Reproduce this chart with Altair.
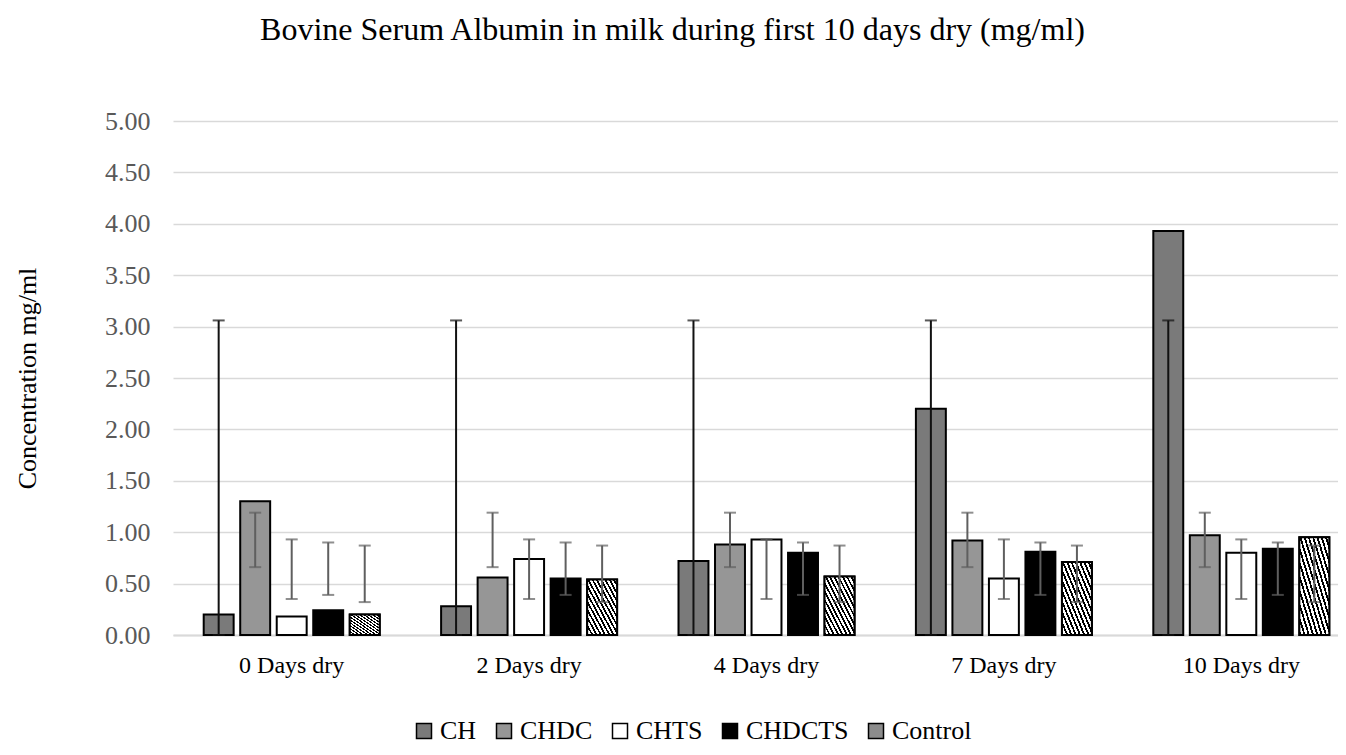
import altair as alt
import pandas as pd

groups = ["0 Days dry", "2 Days dry", "4 Days dry", "7 Days dry", "10 Days dry"]
series = ["CH", "CHDC", "CHTS", "CHDCTS", "Control"]

ch = [0.20, 0.28, 0.72, 2.20, 3.93]
chdc = [1.30, 0.56, 0.88, 0.92, 0.97]
chts = [0.18, 0.74, 0.93, 0.55, 0.80]
chdcts = [0.24, 0.55, 0.80, 0.81, 0.84]
control = [0.20, 0.54, 0.57, 0.71, 0.95]

# error bar limits (same for every day within a series)
err_low = [0.00, 0.66, 0.35, 0.39, 0.32]
err_high = [3.06, 1.19, 0.93, 0.90, 0.87]

y_ticks = [0, 0.5, 1, 1.5, 2, 2.5, 3, 3.5, 4, 4.5, 5]

values = [ch, chdc, chts, chdcts, control]
rows = []
for si, s in enumerate(series):
    for gi, g in enumerate(groups):
        rows.append({"group": g, "series": s, "value": values[si][gi],
                     "lo": err_low[si], "hi": err_high[si]})
df = pd.DataFrame(rows)

FONT = "Liberation Serif"
fills = ["#7a7a7a", "#969696", "#ffffff", "#000000", "#8c8c8c"]

# hatch gradient for Control
stops = []
n = 14
for k in range(n):
    a = k / n
    b = (k + 0.45) / n
    c = (k + 1) / n
    stops += [{"offset": a, "color": "#000000"}, {"offset": b, "color": "#000000"},
              {"offset": b, "color": "#ffffff"}, {"offset": c, "color": "#ffffff"}]
hatch = {"gradient": "linear", "x1": 0, "y1": 1, "x2": 1, "y2": 0, "stops": stops}

x_enc = alt.X("group:N", sort=groups,
              scale=alt.Scale(domain=groups, range=[0, 1187], paddingInner=0.231, paddingOuter=0.1155),
              axis=alt.Axis(title=None, labelAngle=0, ticks=False, tickSize=0, domainColor="#d9d9d9",
                            domainWidth=2, labelFont=FONT, labelFontSize=24, labelColor="#000000",
                            labelPadding=18, grid=False))
xo_enc = alt.XOffset("series:N", sort=series,
                     scale=alt.Scale(domain=series, paddingInner=0.18, paddingOuter=0.09))
y_scale = alt.Scale(domain=[0, 5], nice=False)

base = alt.Chart(df)

bars = base.mark_bar(stroke="#000000", strokeWidth=2).encode(
    x=x_enc,
    xOffset=xo_enc,
    y=alt.Y("value:Q", scale=y_scale,
            axis=alt.Axis(title="Concentration mg/ml", values=y_ticks, format=".2f",
                          grid=True, gridColor="#d9d9d9", gridWidth=1.5, domain=False,
                          ticks=False, labelFont=FONT, labelFontSize=26, labelColor="#595959",
                          labelPadding=23, titleFont=FONT, titleFontSize=26,
                          titleFontWeight="normal", titleColor="#000000", titlePadding=64)),
    color=alt.Color("series:N", sort=series,
                    scale=alt.Scale(domain=series, range=fills),
                    legend=alt.Legend(title=None, orient="none", direction="horizontal",
                                      legendX=238, legendY=597, symbolType="square",
                                      symbolSize=225, symbolStrokeColor="#000000",
                                      symbolStrokeWidth=1.5, labelFont=FONT, labelFontSize=26,
                                      labelColor="#000000", columnPadding=14, labelOffset=3,
                                      columns=5)),
)

ctrl = base.transform_filter(alt.datum.series == "Control").mark_bar(
    fill=hatch, stroke="#000000", strokeWidth=2).encode(
    x=alt.X("group:N", sort=groups), xOffset=xo_enc, y=alt.Y("value:Q", scale=y_scale))

err_color = alt.condition(alt.datum.series == "CH", alt.value("#111111"), alt.value("#5f5f5f"))

rules = base.mark_rule(strokeWidth=2).encode(
    x=alt.X("group:N", sort=groups), xOffset=xo_enc,
    y=alt.Y("lo:Q", scale=y_scale), y2="hi:Q", color=err_color)
caps_hi = base.mark_tick(thickness=2, size=12).encode(
    x=alt.X("group:N", sort=groups), xOffset=xo_enc,
    y=alt.Y("hi:Q", scale=y_scale), color=err_color)
caps_lo = base.mark_tick(thickness=2, size=12).encode(
    x=alt.X("group:N", sort=groups), xOffset=xo_enc,
    y=alt.Y("lo:Q", scale=y_scale), color=err_color)

chart = alt.layer(bars, ctrl, rules, caps_hi, caps_lo).properties(
    width=1165, height=514,
    title=alt.TitleParams("Bovine Serum Albumin in milk during first 10 days dry (mg/ml)",
                          font=FONT, fontSize=32, fontWeight="normal", color="#000000",
                          anchor="middle", frame="group", dx=-83, offset=36,
                          baseline="alphabetic"),
    autosize=alt.AutoSizeParams(type="none"),
    padding={"left": 165, "top": 113, "right": 0, "bottom": 112},
).configure_view(stroke=None)

chart.save("out.html", embed_options={"renderer": "svg", "actions": False})
